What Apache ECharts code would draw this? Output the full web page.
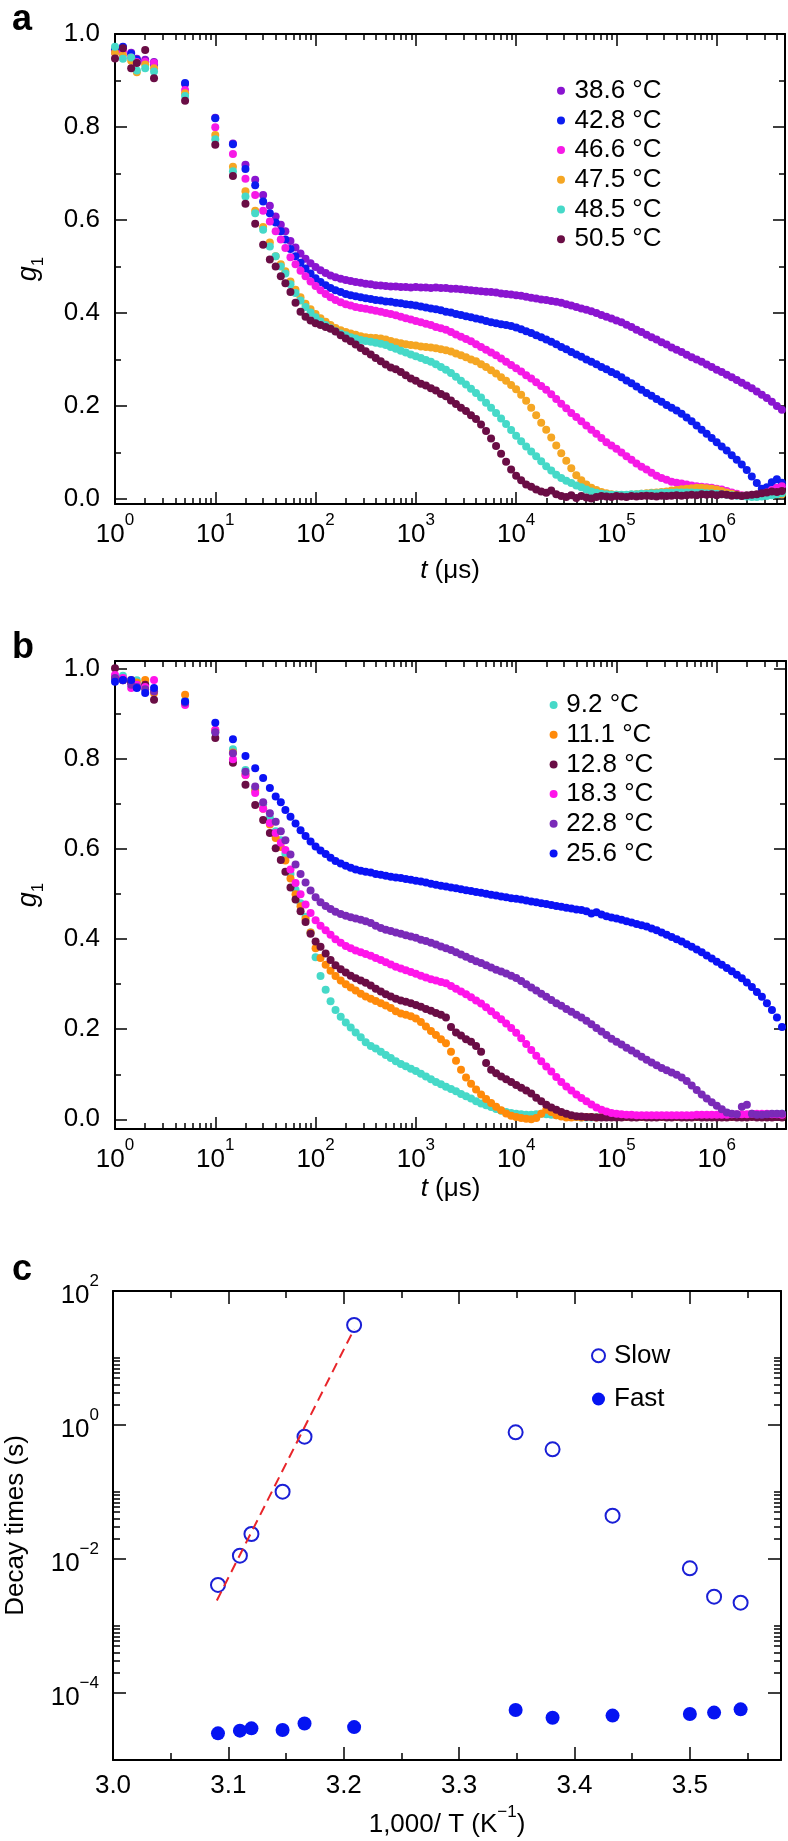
<!DOCTYPE html>
<html><head><meta charset="utf-8">
<script src="https://cdn.jsdelivr.net/npm/echarts@6/dist/echarts.min.js"></script>
<style>html,body{margin:0;padding:0;background:#fff}#c{width:788px;height:1841px}</style>
</head><body><div id="c"></div>
<script>
// ---------- DATA ----------
// shared lag times t (µs) for panels a and b
const tValues = [1,1.2,1.45,1.65,2,2.45,5,10,15,20,25,30,35,40,45,50,
56.2,63.1,70.8,79.4,89.1,
100,112,126,141,158,178,200,224,251,282,316,355,398,447,501,562,631,708,794,891,
1000,1122,1259,1413,1585,1778,1995,2239,2512,2818,3162,3548,3981,4467,5012,5623,6310,7079,7943,8913,
10000,11220,12590,14130,15850,17780,19950,22390,25120,28180,31620,35480,39810,44670,50120,56230,63100,70790,79430,89130,
100000,112200,125900,141300,158500,177800,199500,223900,251200,281800,316200,354800,398100,446700,501200,562300,631000,707900,794300,891300,
1000000,1122000,1259000,1413000,1585000,1778000,1995000,2239000,2512000,2818000,3162000,3548000,3981000,4467000];

// panel a
const namesA = ['38.6 °C','42.8 °C','46.6 °C','47.5 °C','48.5 °C','50.5 °C'];
const gA_386 = [0.966,0.972,0.960,0.947,0.945,0.940,0.893,0.820,0.765,0.719,0.687,0.654,0.631,0.608,0.590,0.576,
0.555,0.541,0.528,0.517,0.507,
0.499,0.492,0.486,0.481,0.477,0.474,0.471,0.469,0.467,0.465,0.463,0.462,0.460,0.459,0.458,0.457,0.457,0.456,0.456,0.455,
0.456,0.455,0.455,0.454,0.455,0.454,0.454,0.452,0.452,0.451,0.450,0.449,0.448,0.447,0.446,0.445,0.444,0.442,0.441,0.440,
0.438,0.437,0.435,0.433,0.431,0.429,0.428,0.426,0.424,0.422,0.419,0.416,0.413,0.410,0.407,0.404,0.400,0.396,0.392,0.388,
0.384,0.380,0.375,0.370,0.364,0.359,0.353,0.348,0.343,0.337,0.332,0.326,0.321,0.316,0.310,0.305,0.300,0.295,0.289,0.284,
0.278,0.273,0.267,0.262,0.256,0.250,0.244,0.238,0.231,0.224,0.217,0.209,0.200,0.192];
const gA_428 = [0.966,0.973,0.958,0.945,0.940,0.935,0.895,0.819,0.763,0.710,0.675,0.640,0.615,0.595,0.576,0.558,
0.538,0.522,0.508,0.496,0.485,
0.475,0.467,0.460,0.454,0.449,0.445,0.441,0.438,0.436,0.434,0.432,0.430,0.428,0.427,0.425,0.424,0.422,0.421,0.419,0.418,
0.416,0.414,0.412,0.410,0.408,0.406,0.403,0.401,0.398,0.396,0.393,0.391,0.388,0.386,0.383,0.380,0.378,0.376,0.374,0.372,
0.369,0.365,0.361,0.357,0.352,0.348,0.343,0.338,0.333,0.327,0.322,0.316,0.311,0.306,0.300,0.295,0.290,0.284,0.279,0.273,
0.268,0.262,0.255,0.249,0.242,0.235,0.228,0.222,0.215,0.209,0.202,0.196,0.190,0.183,0.175,0.167,0.158,0.149,0.140,0.131,
0.122,0.113,0.104,0.094,0.084,0.074,0.062,0.048,0.034,0.022,0.025,0.036,0.042,0.035];
const gA_466 = [0.960,0.963,0.950,0.940,0.941,0.938,0.880,0.800,0.742,0.689,0.654,0.620,0.597,0.576,0.558,0.540,
0.520,0.505,0.491,0.479,0.468,
0.458,0.449,0.441,0.434,0.428,0.423,0.419,0.416,0.413,0.411,0.409,0.407,0.405,0.403,0.400,0.398,0.395,0.392,0.389,0.386,
0.383,0.380,0.377,0.374,0.370,0.367,0.364,0.359,0.354,0.349,0.344,0.339,0.333,0.327,0.321,0.315,0.309,0.302,0.295,0.288,
0.281,0.274,0.266,0.259,0.251,0.243,0.235,0.225,0.215,0.205,0.195,0.185,0.176,0.167,0.158,0.149,0.140,0.131,0.122,0.115,
0.108,0.100,0.092,0.084,0.076,0.069,0.063,0.056,0.050,0.045,0.041,0.037,0.035,0.033,0.031,0.029,0.027,0.026,0.025,0.024,
0.022,0.020,0.017,0.014,0.011,0.008,0.006,0.006,0.008,0.010,0.014,0.019,0.024,0.027];
const gA_475 = [0.960,0.955,0.943,0.918,0.935,0.927,0.873,0.783,0.715,0.662,0.620,0.585,0.552,0.522,0.505,0.490,
0.468,0.450,0.434,0.420,0.408,
0.398,0.389,0.381,0.374,0.368,0.363,0.359,0.356,0.353,0.350,0.348,0.347,0.346,0.345,0.343,0.340,0.337,0.335,0.333,0.331,
0.330,0.328,0.327,0.326,0.324,0.322,0.320,0.317,0.313,0.309,0.305,0.300,0.296,0.290,0.284,0.277,0.270,0.262,0.254,0.245,
0.236,0.224,0.211,0.196,0.180,0.164,0.149,0.132,0.115,0.098,0.082,0.066,0.051,0.040,0.031,0.024,0.019,0.015,0.012,0.010,
0.009,0.008,0.008,0.009,0.010,0.011,0.012,0.013,0.014,0.015,0.016,0.018,0.019,0.021,0.022,0.023,0.024,0.024,0.023,0.022,
0.020,0.017,0.014,0.011,0.009,0.007,0.006,0.006,0.007,0.008,0.008,0.009,0.010,0.010];
const gA_485 = [0.973,0.947,0.950,0.922,0.927,0.920,0.867,0.774,0.705,0.651,0.615,0.579,0.543,0.522,0.500,0.485,
0.462,0.443,0.427,0.413,0.401,
0.391,0.382,0.374,0.367,0.361,0.356,0.352,0.348,0.345,0.342,0.340,0.338,0.336,0.334,0.331,0.327,0.323,0.319,0.315,0.311,
0.307,0.303,0.299,0.295,0.290,0.284,0.278,0.271,0.263,0.254,0.246,0.237,0.228,0.218,0.207,0.196,0.185,0.173,0.161,0.148,
0.136,0.124,0.113,0.102,0.092,0.081,0.070,0.061,0.052,0.045,0.039,0.034,0.029,0.025,0.020,0.016,0.013,0.011,0.010,0.009,
0.009,0.009,0.009,0.010,0.010,0.011,0.011,0.012,0.012,0.013,0.013,0.013,0.014,0.014,0.014,0.014,0.013,0.013,0.012,0.012,
0.011,0.010,0.009,0.008,0.007,0.006,0.005,0.004,0.004,0.005,0.006,0.008,0.010,0.012];
const gA_505 = [0.948,0.970,0.927,0.938,0.966,0.905,0.857,0.762,0.695,0.635,0.592,0.547,0.515,0.500,0.479,0.464,
0.445,0.422,0.403,0.392,0.384,
0.378,0.374,0.370,0.366,0.360,0.352,0.345,0.339,0.332,0.325,0.318,0.311,0.303,0.296,0.289,0.283,0.279,0.273,0.266,0.259,
0.254,0.248,0.244,0.238,0.233,0.226,0.221,0.212,0.204,0.196,0.189,0.180,0.172,0.160,0.146,0.130,0.114,0.097,0.080,0.063,
0.050,0.040,0.031,0.026,0.020,0.016,0.013,0.018,0.010,0.006,0.004,0.008,0.002,0.006,0.003,0.001,0.004,0.006,0.005,0.004,
0.006,0.005,0.004,0.006,0.005,0.006,0.007,0.006,0.005,0.007,0.006,0.007,0.008,0.007,0.008,0.009,0.008,0.010,0.009,0.010,
0.008,0.010,0.009,0.007,0.008,0.006,0.008,0.009,0.010,0.012,0.014,0.016,0.015,0.017];

// panel b
const namesB = ['9.2 °C','11.1 °C','12.8 °C','18.3 °C','22.8 °C','25.6 °C'];
const gB_92 = [0.980,0.985,0.970,0.975,0.965,0.950,0.930,0.860,0.822,0.776,0.735,0.700,0.670,0.640,0.620,0.590,
0.545,0.510,0.480,0.450,0.415,
0.360,0.318,0.288,0.262,0.243,0.228,0.215,0.204,0.193,0.182,0.171,0.163,0.157,0.150,0.143,0.136,0.129,0.123,0.118,0.112,
0.107,0.101,0.095,0.089,0.083,0.078,0.072,0.067,0.062,0.056,0.051,0.046,0.040,0.035,0.031,0.027,0.023,0.019,0.016,0.014,
0.012,0.011,0.010,0.010,0.011,0.012,0.011,0.010,0.009,0.008,0.007,0.006,0.005,0.004,0.004,0.004,0.005,0.005,0.006,0.006,
0.006,0.006,0.006,0.006,0.006,0.006,0.006,0.006,0.006,0.006,0.006,0.006,0.006,0.006,0.006,0.006,0.006,0.006,0.006,0.006,
0.006,0.006,0.007,0.007,0.007,0.008,0.008,0.008,0.009,0.010,0.010,0.011,0.011,0.012];
const gB_111 = [0.980,0.978,0.976,0.970,0.976,0.947,0.943,0.865,0.815,0.765,0.730,0.690,0.655,0.625,0.605,0.575,
0.535,0.500,0.473,0.445,0.415,
0.380,0.358,0.343,0.330,0.318,0.308,0.300,0.293,0.286,0.279,0.273,0.268,0.263,0.258,0.253,0.247,0.240,0.235,0.232,0.229,
0.224,0.216,0.206,0.196,0.187,0.178,0.169,0.150,0.130,0.110,0.093,0.079,0.066,0.055,0.045,0.036,0.028,0.020,0.013,0.008,
0.005,0.003,0.001,0.000,0.003,0.012,0.021,0.016,0.009,0.006,0.004,0.004,0.005,0.004,0.005,0.005,0.004,0.005,0.005,0.005,
0.005,0.005,0.005,0.005,0.005,0.005,0.005,0.005,0.005,0.005,0.005,0.005,0.005,0.005,0.005,0.005,0.005,0.005,0.005,0.005,
0.005,0.005,0.005,0.005,0.006,0.006,0.006,0.006,0.006,0.007,0.007,0.007,0.007,0.007];
const gB_128 = [1.002,0.975,0.970,0.960,0.965,0.932,0.925,0.847,0.792,0.743,0.698,0.665,0.636,0.602,0.576,0.550,
0.515,0.488,0.462,0.438,0.412,
0.395,0.383,0.368,0.354,0.342,0.333,0.326,0.319,0.313,0.308,0.303,0.297,0.290,0.284,0.278,0.273,0.268,0.264,0.261,0.258,
0.254,0.250,0.245,0.241,0.236,0.232,0.226,0.205,0.193,0.186,0.178,0.172,0.163,0.150,0.125,0.110,0.102,0.095,0.089,0.083,
0.076,0.070,0.064,0.057,0.048,0.040,0.032,0.026,0.021,0.016,0.012,0.009,0.007,0.006,0.005,0.005,0.004,0.004,0.004,0.004,
0.004,0.004,0.005,0.004,0.004,0.005,0.004,0.004,0.004,0.005,0.004,0.004,0.005,0.004,0.004,0.004,0.005,0.004,0.004,0.004,
0.004,0.004,0.004,0.005,0.004,0.004,0.004,0.005,0.004,0.004,0.004,0.004,0.005,0.004];
const gB_183 = [0.987,0.980,0.958,0.965,0.960,0.976,0.920,0.865,0.800,0.765,0.725,0.690,0.658,0.636,0.614,0.598,
0.555,0.525,0.500,0.477,0.458,
0.442,0.430,0.420,0.410,0.400,0.392,0.385,0.380,0.375,0.371,0.367,0.363,0.358,0.354,0.349,0.344,0.339,0.335,0.331,0.327,
0.323,0.319,0.315,0.311,0.308,0.305,0.302,0.296,0.290,0.284,0.278,0.271,0.264,0.257,0.249,0.240,0.231,0.222,0.213,0.203,
0.192,0.180,0.167,0.154,0.141,0.129,0.117,0.106,0.094,0.083,0.073,0.064,0.055,0.047,0.040,0.033,0.026,0.021,0.017,0.014,
0.012,0.011,0.010,0.010,0.009,0.009,0.009,0.009,0.009,0.009,0.009,0.009,0.009,0.009,0.009,0.009,0.010,0.010,0.010,0.010,
0.010,0.010,0.010,0.011,0.011,0.011,0.011,0.012,0.012,0.012,0.012,0.011,0.011,0.010];
const gB_228 = [0.980,0.975,0.965,0.960,0.955,0.950,0.925,0.860,0.813,0.772,0.739,0.704,0.680,0.661,0.640,0.620,
0.588,0.566,0.545,0.526,0.508,
0.493,0.482,0.474,0.467,0.461,0.456,0.452,0.449,0.446,0.443,0.440,0.436,0.430,0.425,0.421,0.418,0.415,0.412,0.409,0.406,
0.403,0.399,0.396,0.392,0.388,0.384,0.380,0.376,0.371,0.366,0.361,0.356,0.351,0.347,0.342,0.337,0.332,0.328,0.324,0.319,
0.314,0.307,0.300,0.293,0.286,0.279,0.272,0.265,0.258,0.252,0.245,0.239,0.232,0.226,0.219,0.211,0.203,0.195,0.187,0.179,
0.172,0.166,0.159,0.153,0.146,0.139,0.132,0.126,0.120,0.114,0.109,0.104,0.099,0.093,0.085,0.075,0.065,0.055,0.046,0.038,
0.030,0.022,0.015,0.012,0.011,0.028,0.032,0.012,0.010,0.010,0.011,0.012,0.012,0.012];
const gB_256 = [0.972,0.976,0.976,0.958,0.947,0.958,0.928,0.881,0.844,0.807,0.780,0.758,0.736,0.717,0.704,0.687,
0.672,0.657,0.642,0.629,0.617,
0.606,0.597,0.589,0.581,0.574,0.568,0.563,0.559,0.555,0.552,0.550,0.548,0.545,0.543,0.541,0.539,0.537,0.536,0.534,0.532,
0.530,0.528,0.526,0.523,0.521,0.519,0.517,0.515,0.513,0.511,0.509,0.507,0.505,0.503,0.501,0.499,0.497,0.495,0.493,0.491,
0.490,0.488,0.486,0.484,0.482,0.480,0.478,0.476,0.474,0.472,0.470,0.468,0.466,0.465,0.462,0.457,0.460,0.455,0.451,0.448,
0.446,0.443,0.440,0.437,0.434,0.431,0.428,0.424,0.420,0.415,0.410,0.405,0.400,0.395,0.389,0.383,0.377,0.371,0.364,0.357,
0.350,0.343,0.336,0.329,0.321,0.313,0.304,0.294,0.283,0.272,0.258,0.243,0.226,0.205];

// panel c
const invT = [3.091,3.110,3.120,3.147,3.166,3.209,3.349,3.381,3.433,3.500,3.521,3.544];
const slowTimes = [0.0041,0.0112,0.0236,0.101,0.67,31.1,0.778,0.433,0.0443,0.00726,0.00274,0.00223];
const fastTimes = [2.5e-5,2.74e-5,2.97e-5,2.8e-5,3.5e-5,3.1e-5,5.57e-5,4.28e-5,4.6e-5,4.86e-5,5.1e-5,5.7e-5];
const fitX = [3.090,3.209];
const fitY = [0.0024,27];

const colorsA = ['#8a14d0','#0c1cf0','#f61ae6','#f5a623','#46d9c8','#6a0d45'];
const colorsB = ['#46d9c8','#ff8a0a','#6a0d45','#ff14ea','#7a2ab8','#0a12f5'];

// ---------- OPTION ----------
const FONT = '"Liberation Sans", Arial, Helvetica, sans-serif';
const BLACK = '#000';
function pow10Label(v){
  const e = Math.round(Math.log10(v));
  const s = e < 0 ? '\u2212' + (-e) : '' + e;
  return '{b|10}{s|' + s + '}';
}
const supRich = {
  b:{fontSize:26,fontFamily:FONT,color:BLACK,lineHeight:36,verticalAlign:'bottom'},
  s:{fontSize:17,fontFamily:FONT,color:BLACK,lineHeight:17,verticalAlign:'top'}
};
function logMajor(maxExp){const o=[];for(let e=0;e<=maxExp;e++)o.push(Math.pow(10,e));return o;}
function logMinor(maxExp,maxVal){const o=[];for(let e=0;e<=maxExp;e++)for(let k=2;k<=9;k++){const v=k*Math.pow(10,e);if(v<maxVal)o.push(v);}return o;}

function ax(type, gridIndex, position, min, max, ticks, len, showLine, extra){
  const a = {
    type, gridIndex, position, min, max,
    axisLine:{show:showLine,onZero:false,lineStyle:{color:BLACK,width:2}},
    axisTick:{show:true,inside:true,length:len,customValues:ticks,lineStyle:{color:BLACK,width:1.5}},
    axisLabel:{show:false},
    splitLine:{show:false},
    minorTick:{show:false}
  };
  if (type === 'log') a.logBase = 10;
  return Object.assign(a, extra || {});
}

const maxA = 4.8e6, maxB = 4.9e6;
const minAy = -0.011, maxAy = 1.0005, minBy = -0.0216, maxBy = 1.018;
const gMajor = [0,0.2,0.4,0.6,0.8,1.0], gMinor = [0.1,0.3,0.5,0.7,0.9];
const cxMajor = [3.0,3.1,3.2,3.3,3.4,3.5], cxMinor = [3.05,3.15,3.25,3.35,3.45,3.55];
const cyMajor = [1e-4,1e-2,1,100];
const cyMinor = []; [-4,-2,0].forEach(e=>{for(let k=2;k<=10;k++)cyMinor.push(k*Math.pow(10,e));});

function xAxesLog(g, max, nameGap){
  const maj = logMajor(6), mn = logMinor(6, max);
  return [
    ax('log',g,'bottom',1,max,maj,12,true,{
      axisLabel:{show:true,margin:8,customValues:maj,formatter:pow10Label,rich:supRich},
      name:'{i|t} (\u03bcs)',nameLocation:'middle',nameGap:nameGap,
      nameTextStyle:{fontSize:26,fontFamily:FONT,color:BLACK,rich:{i:{fontSize:26,fontFamily:FONT,fontStyle:'italic',color:BLACK}}}
    }),
    ax('log',g,'bottom',1,max,mn,6,false),
    ax('log',g,'top',1,max,maj,12,true),
    ax('log',g,'top',1,max,mn,6,false)
  ];
}
function yAxesG(g, min, max, nameGap){
  return [
    ax('value',g,'left',min,max,gMajor,12,true,{
      axisLabel:{show:true,margin:15,customValues:gMajor,formatter:v=>v.toFixed(1),fontSize:26,fontFamily:FONT,color:BLACK},
      name:'{g|g}{sub|1}',nameLocation:'middle',nameGap:nameGap,nameRotate:90,
      nameTextStyle:{rich:{g:{fontSize:27,fontFamily:FONT,fontStyle:'italic',color:BLACK,lineHeight:32,verticalAlign:'top'},
                           sub:{fontSize:17,fontFamily:FONT,color:BLACK,lineHeight:17,verticalAlign:'bottom'}}}
    }),
    ax('value',g,'left',min,max,gMinor,6,false),
    ax('value',g,'right',min,max,gMajor,12,true),
    ax('value',g,'right',min,max,gMinor,6,false)
  ];
}

const xAxis = [].concat(
  xAxesLog(0, maxA, 54),
  xAxesLog(1, maxB, 47),
  [
    ax('value',2,'bottom',3.0,3.579,cxMajor,13,true,{
      axisLabel:{show:true,margin:13,customValues:cxMajor,formatter:v=>v.toFixed(1),fontSize:26,fontFamily:FONT,color:BLACK},
      name:'{b|1,000/ T (K}{s|\u22121}{b|)}',nameLocation:'middle',nameGap:44,
      nameTextStyle:{rich:{b:{fontSize:26,fontFamily:FONT,color:BLACK,lineHeight:34,verticalAlign:'bottom'},
                           s:{fontSize:17,fontFamily:FONT,color:BLACK,lineHeight:17,verticalAlign:'top'}}}
    }),
    ax('value',2,'bottom',3.0,3.579,cxMinor,7,false),
    ax('value',2,'top',3.0,3.579,cxMajor,13,true),
    ax('value',2,'top',3.0,3.579,cxMinor,7,false)
  ]
);
const yAxis = [].concat(
  yAxesG(0, minAy, maxAy, 68),
  yAxesG(1, minBy, maxBy, 68),
  [
    ax('log',2,'left',1e-5,100,cyMajor,13,true,{
      axisLabel:{show:true,margin:14,customValues:cyMajor,formatter:pow10Label,rich:supRich},
      name:'Decay times (s)',nameLocation:'middle',nameGap:84,nameRotate:90,
      nameTextStyle:{fontSize:26,fontFamily:FONT,color:BLACK}
    }),
    ax('log',2,'left',1e-5,100,cyMinor,7,false),
    ax('log',2,'right',1e-5,100,cyMajor,13,true),
    ax('log',2,'right',1e-5,100,cyMinor,7,false)
  ]
);

const series = [];
function addG(name, vals, color, xi, yi){
  series.push({type:'scatter',name,xAxisIndex:xi,yAxisIndex:yi,symbol:'circle',symbolSize:8,
    itemStyle:{color,opacity:1},silent:true,
    data:tValues.map((t,i)=>[t, vals[i]])});
}
[gA_386,gA_428,gA_466,gA_475,gA_485,gA_505].forEach((v,i)=>addG(namesA[i],v,colorsA[i],0,0));
[gB_92,gB_111,gB_128,gB_183,gB_228,gB_256].forEach((v,i)=>addG(namesB[i],v,colorsB[i],4,4));

series.push({type:'line',name:'fit',xAxisIndex:8,yAxisIndex:8,symbol:'none',silent:true,
  lineStyle:{color:'#e8252a',width:2,type:[10,6]},data:fitX.map((x,i)=>[x,fitY[i]])});
series.push({type:'scatter',name:'Slow',xAxisIndex:8,yAxisIndex:8,symbol:'circle',symbolSize:14,silent:true,
  itemStyle:{color:'rgba(255,255,255,0)',borderColor:'#1a1fd6',borderWidth:2,opacity:1},
  data:invT.map((x,i)=>[x,slowTimes[i]])});
series.push({type:'scatter',name:'Fast',xAxisIndex:8,yAxisIndex:8,symbol:'circle',symbolSize:14,silent:true,
  itemStyle:{color:'#0514f2',opacity:1},
  data:invT.map((x,i)=>[x,fastTimes[i]])});

const legendText = {fontSize:26,fontFamily:FONT,color:BLACK};
const option = {
  animation:false,
  backgroundColor:'#fff',
  grid:[
    {left:115,top:34,width:670,height:470,containLabel:false,outerBoundsMode:'none'},
    {left:115,top:661,width:671,height:468,containLabel:false,outerBoundsMode:'none'},
    {left:113,top:1291,width:668,height:469,containLabel:false,outerBoundsMode:'none'}
  ],
  xAxis, yAxis, series,
  legend:[
    {data:namesA,orient:'vertical',left:557,top:77.7,itemWidth:17,itemHeight:8,itemGap:3.7,icon:'circle',padding:0,selectedMode:false,textStyle:legendText},
    {data:namesB,orient:'vertical',left:549.6,top:692,itemWidth:15.4,itemHeight:8,itemGap:3.7,icon:'circle',padding:0,selectedMode:false,textStyle:legendText},
    {data:['Slow','Fast'],orient:'vertical',left:591,top:1342.7,itemWidth:21,itemHeight:13,itemGap:17.3,padding:0,selectedMode:false,textStyle:legendText}
  ],
  graphic:[
    {type:'text',left:12,top:2,style:{text:'a',font:'bold 36px '+FONT,fill:BLACK}},
    {type:'text',left:12,top:630,style:{text:'b',font:'bold 36px '+FONT,fill:BLACK}},
    {type:'text',left:12,top:1252,style:{text:'c',font:'bold 36px '+FONT,fill:BLACK}}
  ]
};
const chart = echarts.init(document.getElementById('c'), null, {renderer:'canvas'});
chart.setOption(option);
</script>
</body></html>
